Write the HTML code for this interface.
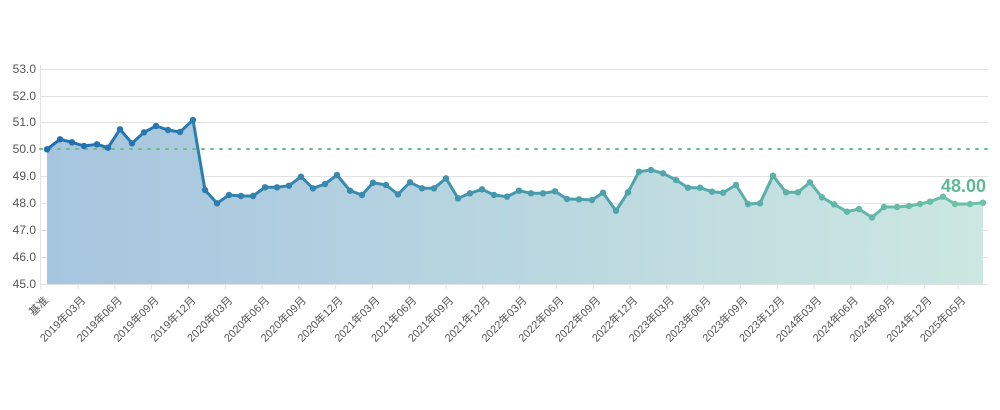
<!DOCTYPE html>
<html><head><meta charset="utf-8"><style>
html,body{margin:0;padding:0;background:#fff;}
svg{display:block;font-family:"Liberation Sans","Noto Sans CJK SC",sans-serif;}
</style></head><body>
<svg width="1000" height="410" viewBox="0 0 1000 410" xmlns="http://www.w3.org/2000/svg">
<defs>
<linearGradient id="sg" x1="47" y1="0" x2="983" y2="0" gradientUnits="userSpaceOnUse">
<stop offset="0" stop-color="#1f6fb0"/><stop offset="1" stop-color="#6cc3a8"/></linearGradient>
<linearGradient id="fg" x1="47" y1="0" x2="983" y2="0" gradientUnits="userSpaceOnUse">
<stop offset="0" stop-color="#a6c5df"/><stop offset="1" stop-color="#cce7e1"/></linearGradient>
</defs>
<g stroke="#e2e2e2" stroke-width="1">
<line x1="40" y1="69.5" x2="988" y2="69.5"/><line x1="40" y1="96.5" x2="988" y2="96.5"/>
<line x1="40" y1="122.5" x2="988" y2="122.5"/><line x1="40" y1="176.5" x2="988" y2="176.5"/>
<line x1="40" y1="203.5" x2="988" y2="203.5"/><line x1="40" y1="230.5" x2="988" y2="230.5"/>
<line x1="40" y1="257.5" x2="988" y2="257.5"/><line x1="40" y1="284.5" x2="988" y2="284.5"/>
<line x1="40.5" y1="65" x2="40.5" y2="284"/>
</g>
<g font-size="12" fill="#555" text-anchor="end">
<text x="36" y="73">53.0</text><text x="36" y="100">52.0</text><text x="36" y="126">51.0</text>
<text x="36" y="153">50.0</text><text x="36" y="180">49.0</text><text x="36" y="207">48.0</text>
<text x="36" y="234">47.0</text><text x="36" y="261">46.0</text><text x="36" y="288">45.0</text>
</g>
<polygon fill="url(#fg)" points="47,284 47,149.3 60,139.3 72,142.3 84,146 97,144.3 108,147.7 120,129.3 132,143.3 144,132.3 156,126 168,130 180,132 193,120 205,190 217,203.3 229,195 241,196 253,196 265,187.3 277,187.3 289,185.7 301,176.7 313,188.3 325,184 337,175 350,190.7 362,195 373,182.7 386,185 398,194.3 410,182.3 422,188.3 434,188.3 446,178.3 458,198.3 470,193.3 482,189.3 494,195 507,196.7 519,190.7 531,193.3 543,193.3 555,191.3 567,199 579,199.3 592,200 603,192.7 616,210.7 628,192.3 639,171.7 651,170 663,173.3 676,180 688,187.7 700,187.7 712,191.7 723,192.7 736,185 748,204 760,203.3 773,175.7 786,192.3 798,192.3 810,182.3 822,197.3 834,204.3 847,211.7 859,209 872,217.5 884,207 897,207 909,206 920,204 930,201.7 943,196.7 955,204 970,204 983,202.7 983,284"/>
<line x1="40" y1="149" x2="988" y2="149" stroke="#6dbb8a" stroke-width="2" stroke-dasharray="2,7" stroke-linecap="round"/>
<polyline id="ln" fill="none" stroke="url(#sg)" stroke-width="3" stroke-linejoin="round" points="47,149.3 60,139.3 72,142.3 84,146 97,144.3 108,147.7 120,129.3 132,143.3 144,132.3 156,126 168,130 180,132 193,120 205,190 217,203.3 229,195 241,196 253,196 265,187.3 277,187.3 289,185.7 301,176.7 313,188.3 325,184 337,175 350,190.7 362,195 373,182.7 386,185 398,194.3 410,182.3 422,188.3 434,188.3 446,178.3 458,198.3 470,193.3 482,189.3 494,195 507,196.7 519,190.7 531,193.3 543,193.3 555,191.3 567,199 579,199.3 592,200 603,192.7 616,210.7 628,192.3 639,171.7 651,170 663,173.3 676,180 688,187.7 700,187.7 712,191.7 723,192.7 736,185 748,204 760,203.3 773,175.7 786,192.3 798,192.3 810,182.3 822,197.3 834,204.3 847,211.7 859,209 872,217.5 884,207 897,207 909,206 920,204 930,201.7 943,196.7 955,204 970,204 983,202.7"/>
<g id="dots"></g>
<text x="986" y="192" font-size="18" font-weight="bold" fill="#5db894" text-anchor="end">48.00</text>
<g font-size="11" fill="#555" text-anchor="end" id="xl"></g>
<g stroke="#e2e2e2" id="tk"></g>
<script>
var pts=document.getElementById('ln').getAttribute('points').trim().split(/\s+/);
var g=document.getElementById('dots'),ns='http://www.w3.org/2000/svg';
pts.forEach(function(p){var a=p.split(',');var c=document.createElementNS(ns,'circle');c.setAttribute('cx',a[0]);c.setAttribute('cy',a[1]);c.setAttribute('r','3.2');c.setAttribute('fill','url(#sg)');g.appendChild(c);});
var labels=['基准','2019年03月','2019年06月','2019年09月','2019年12月','2020年03月','2020年06月','2020年09月','2020年12月','2021年03月','2021年06月','2021年09月','2021年12月','2022年03月','2022年06月','2022年09月','2022年12月','2023年03月','2023年06月','2023年09月','2023年12月','2024年03月','2024年06月','2024年09月','2024年12月','2025年05月'];
var xs=[41];for(var i=0;i<24;i++)xs.push(78+i*36.8);xs.push(958);
var xl=document.getElementById('xl'),tk=document.getElementById('tk');
labels.forEach(function(l,i){var x=xs[i];var t=document.createElementNS(ns,'text');var tx=x+8,ty=301;t.setAttribute('x',tx);t.setAttribute('y',ty);t.setAttribute('transform','rotate(-45 '+tx+' '+ty+')');t.textContent=l;xl.appendChild(t);
var k=document.createElementNS(ns,'line');k.setAttribute('x1',x);k.setAttribute('x2',x);k.setAttribute('y1',284);k.setAttribute('y2',289);tk.appendChild(k);});
</script>
</svg>
</body></html>
